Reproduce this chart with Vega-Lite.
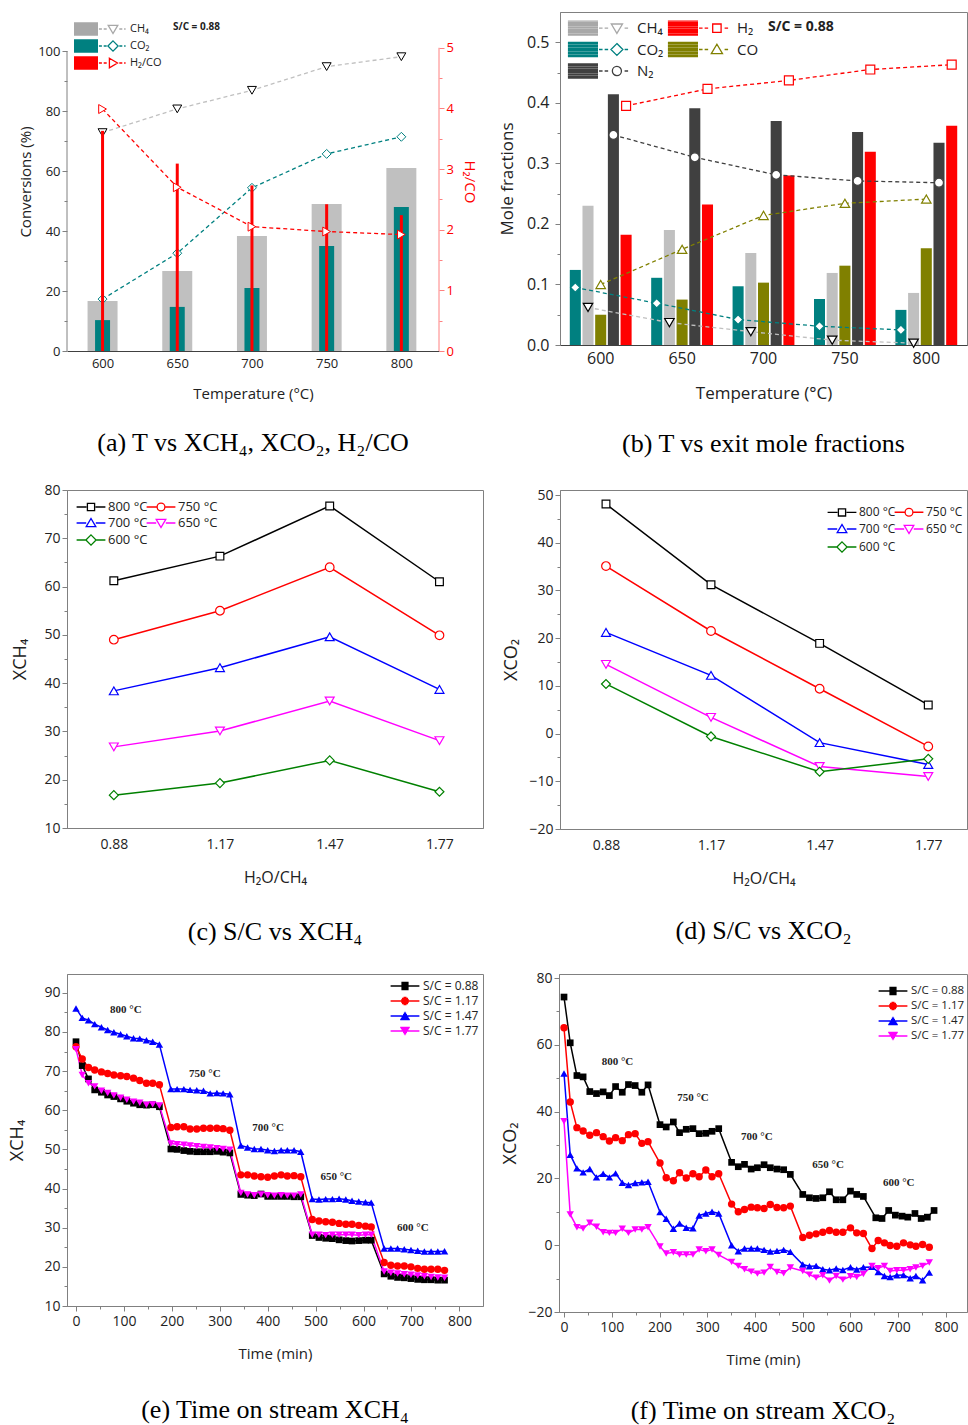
{
"$schema": "https://vega.github.io/schema/vega-lite/v6.json",
"background": "white",
"padding": {"left": 8, "top": 11, "right": 0, "bottom": 0},
"config": {
  "font": "Open Sans",
  "view": {"stroke": "#808080", "strokeWidth": 1},
  "axis": {"domainColor": "#808080", "tickColor": "#808080", "labelColor": "#222222", "titleColor": "#222222", "labelFont": "Open Sans", "titleFont": "Open Sans", "titleFontWeight": "normal", "grid": false, "labelFontSize": 13, "titleFontSize": 15},
  "legend": {"labelFont": "Open Sans", "padding": 0, "labelColor": "#222222", "titleFont": "Open Sans", "titleColor": "#222222"},
  "title": {"font": "Liberation Serif", "fontSize": 26, "fontWeight": "normal", "color": "#000000", "orient": "bottom", "anchor": "middle"}
},
"datasets": {
  "a_conv": [
    {"T":600,"s":"CH₄","k":"bar","v":16.7},{"T":650,"s":"CH₄","k":"bar","v":26.7},{"T":700,"s":"CH₄","k":"bar","v":38.3},{"T":750,"s":"CH₄","k":"bar","v":49.0},{"T":800,"s":"CH₄","k":"bar","v":61.0},
    {"T":600,"s":"CO₂","k":"bar","v":10.3},{"T":650,"s":"CO₂","k":"bar","v":14.7},{"T":700,"s":"CO₂","k":"bar","v":21.0},{"T":750,"s":"CO₂","k":"bar","v":35.0},{"T":800,"s":"CO₂","k":"bar","v":48.0},
    {"T":600,"s":"CH₄","k":"line","v":72.8},{"T":650,"s":"CH₄","k":"line","v":80.7},{"T":700,"s":"CH₄","k":"line","v":86.9},{"T":750,"s":"CH₄","k":"line","v":94.8},{"T":800,"s":"CH₄","k":"line","v":98.1},
    {"T":600,"s":"CO₂","k":"line","v":17.3},{"T":650,"s":"CO₂","k":"line","v":32.6},{"T":700,"s":"CO₂","k":"line","v":54.4},{"T":750,"s":"CO₂","k":"line","v":65.7},{"T":800,"s":"CO₂","k":"line","v":71.4}
  ],
  "a_ratio": [
    {"T":600,"s":"H₂/CO","k":"bar","v":3.63},{"T":650,"s":"H₂/CO","k":"bar","v":3.09},{"T":700,"s":"H₂/CO","k":"bar","v":2.73},{"T":750,"s":"H₂/CO","k":"bar","v":2.42},{"T":800,"s":"H₂/CO","k":"bar","v":2.24},
    {"T":600,"s":"H₂/CO","k":"line","v":3.99},{"T":650,"s":"H₂/CO","k":"line","v":2.70},{"T":700,"s":"H₂/CO","k":"line","v":2.05},{"T":750,"s":"H₂/CO","k":"line","v":1.97},{"T":800,"s":"H₂/CO","k":"line","v":1.92}
  ],
  "b": [
    {"T":600,"s":"CO₂","k":"bar","v":0.124},{"T":600,"s":"CH₄","k":"bar","v":0.230},{"T":600,"s":"CO","k":"bar","v":0.050},{"T":600,"s":"N₂","k":"bar","v":0.414},{"T":600,"s":"H₂","k":"bar","v":0.182},
    {"T":650,"s":"CO₂","k":"bar","v":0.111},{"T":650,"s":"CH₄","k":"bar","v":0.190},{"T":650,"s":"CO","k":"bar","v":0.075},{"T":650,"s":"N₂","k":"bar","v":0.391},{"T":650,"s":"H₂","k":"bar","v":0.232},
    {"T":700,"s":"CO₂","k":"bar","v":0.097},{"T":700,"s":"CH₄","k":"bar","v":0.152},{"T":700,"s":"CO","k":"bar","v":0.103},{"T":700,"s":"N₂","k":"bar","v":0.370},{"T":700,"s":"H₂","k":"bar","v":0.280},
    {"T":750,"s":"CO₂","k":"bar","v":0.076},{"T":750,"s":"CH₄","k":"bar","v":0.119},{"T":750,"s":"CO","k":"bar","v":0.131},{"T":750,"s":"N₂","k":"bar","v":0.352},{"T":750,"s":"H₂","k":"bar","v":0.319},
    {"T":800,"s":"CO₂","k":"bar","v":0.058},{"T":800,"s":"CH₄","k":"bar","v":0.086},{"T":800,"s":"CO","k":"bar","v":0.160},{"T":800,"s":"N₂","k":"bar","v":0.334},{"T":800,"s":"H₂","k":"bar","v":0.362},
    {"T":600,"s":"CO₂","k":"line","v":0.095},{"T":650,"s":"CO₂","k":"line","v":0.069},{"T":700,"s":"CO₂","k":"line","v":0.042},{"T":750,"s":"CO₂","k":"line","v":0.031},{"T":800,"s":"CO₂","k":"line","v":0.025},
    {"T":600,"s":"CH₄","k":"line","v":0.062},{"T":650,"s":"CH₄","k":"line","v":0.037},{"T":700,"s":"CH₄","k":"line","v":0.022},{"T":750,"s":"CH₄","k":"line","v":0.008},{"T":800,"s":"CH₄","k":"line","v":0.003},
    {"T":600,"s":"CO","k":"line","v":0.100},{"T":650,"s":"CO","k":"line","v":0.158},{"T":700,"s":"CO","k":"line","v":0.214},{"T":750,"s":"CO","k":"line","v":0.234},{"T":800,"s":"CO","k":"line","v":0.241},
    {"T":600,"s":"N₂","k":"line","v":0.347},{"T":650,"s":"N₂","k":"line","v":0.310},{"T":700,"s":"N₂","k":"line","v":0.281},{"T":750,"s":"N₂","k":"line","v":0.271},{"T":800,"s":"N₂","k":"line","v":0.268},
    {"T":600,"s":"H₂","k":"line","v":0.395},{"T":650,"s":"H₂","k":"line","v":0.423},{"T":700,"s":"H₂","k":"line","v":0.437},{"T":750,"s":"H₂","k":"line","v":0.455},{"T":800,"s":"H₂","k":"line","v":0.463}
  ],
  "c": [
    {"r":0.88,"t":"800","v":61.2},{"r":1.17,"t":"800","v":66.3},{"r":1.47,"t":"800","v":76.7},{"r":1.77,"t":"800","v":61.0},
    {"r":0.88,"t":"750","v":49.0},{"r":1.17,"t":"750","v":55.0},{"r":1.47,"t":"750","v":64.0},{"r":1.77,"t":"750","v":49.9},
    {"r":0.88,"t":"700","v":38.4},{"r":1.17,"t":"700","v":43.2},{"r":1.47,"t":"700","v":49.6},{"r":1.77,"t":"700","v":38.7},
    {"r":0.88,"t":"650","v":26.8},{"r":1.17,"t":"650","v":30.1},{"r":1.47,"t":"650","v":36.3},{"r":1.77,"t":"650","v":28.1},
    {"r":0.88,"t":"600","v":16.8},{"r":1.17,"t":"600","v":19.3},{"r":1.47,"t":"600","v":24.0},{"r":1.77,"t":"600","v":17.5}
  ],
  "d": [
    {"r":0.88,"t":"800","v":48.1},{"r":1.17,"t":"800","v":31.2},{"r":1.47,"t":"800","v":18.9},{"r":1.77,"t":"800","v":6.0},
    {"r":0.88,"t":"750","v":35.1},{"r":1.17,"t":"750","v":21.5},{"r":1.47,"t":"750","v":9.4},{"r":1.77,"t":"750","v":-2.7},
    {"r":0.88,"t":"700","v":21.2},{"r":1.17,"t":"700","v":12.2},{"r":1.47,"t":"700","v":-1.9},{"r":1.77,"t":"700","v":-6.5},
    {"r":0.88,"t":"650","v":14.5},{"r":1.17,"t":"650","v":3.4},{"r":1.47,"t":"650","v":-6.9},{"r":1.77,"t":"650","v":-9.0},
    {"r":0.88,"t":"600","v":10.4},{"r":1.17,"t":"600","v":-0.6},{"r":1.47,"t":"600","v":-8.0},{"r":1.77,"t":"600","v":-5.3}
  ],
  "e": [
    {"t":0,"s":"0.88","v":77.5},{"t":13,"s":"0.88","v":71.4},{"t":26,"s":"0.88","v":68.0},{"t":39,"s":"0.88","v":65.2},{"t":53,"s":"0.88","v":64.6},{"t":66,"s":"0.88","v":63.9},{"t":79,"s":"0.88","v":63.5},{"t":93,"s":"0.88","v":62.9},{"t":106,"s":"0.88","v":62.3},{"t":120,"s":"0.88","v":61.8},{"t":133,"s":"0.88","v":61.4},{"t":147,"s":"0.88","v":61.3},{"t":160,"s":"0.88","v":61.4},{"t":174,"s":"0.88","v":60.9},
    {"t":198,"s":"0.88","v":50.1},{"t":211,"s":"0.88","v":50.0},{"t":225,"s":"0.88","v":49.7},{"t":238,"s":"0.88","v":49.5},{"t":252,"s":"0.88","v":49.4},{"t":266,"s":"0.88","v":49.4},{"t":280,"s":"0.88","v":49.4},{"t":294,"s":"0.88","v":49.5},{"t":307,"s":"0.88","v":49.3},{"t":321,"s":"0.88","v":49.1},
    {"t":344,"s":"0.88","v":38.5},{"t":358,"s":"0.88","v":38.3},{"t":372,"s":"0.88","v":38.2},{"t":386,"s":"0.88","v":38.6},{"t":400,"s":"0.88","v":38.0},{"t":414,"s":"0.88","v":38.0},{"t":428,"s":"0.88","v":38.0},{"t":441,"s":"0.88","v":38.0},{"t":455,"s":"0.88","v":37.9},{"t":469,"s":"0.88","v":37.9},
    {"t":493,"s":"0.88","v":28.0},{"t":507,"s":"0.88","v":27.5},{"t":521,"s":"0.88","v":27.3},{"t":535,"s":"0.88","v":27.2},{"t":549,"s":"0.88","v":26.9},{"t":563,"s":"0.88","v":26.7},{"t":576,"s":"0.88","v":26.6},{"t":590,"s":"0.88","v":26.7},{"t":604,"s":"0.88","v":26.8},{"t":616,"s":"0.88","v":26.8},
    {"t":643,"s":"0.88","v":18.2},{"t":657,"s":"0.88","v":17.6},{"t":671,"s":"0.88","v":17.3},{"t":685,"s":"0.88","v":17.2},{"t":699,"s":"0.88","v":17.0},{"t":713,"s":"0.88","v":16.8},{"t":727,"s":"0.88","v":16.7},{"t":741,"s":"0.88","v":16.7},{"t":755,"s":"0.88","v":16.6},{"t":769,"s":"0.88","v":16.6},
    {"t":0,"s":"1.17","v":76.2},{"t":13,"s":"1.17","v":73.1},{"t":26,"s":"1.17","v":70.9},{"t":39,"s":"1.17","v":70.3},{"t":53,"s":"1.17","v":69.8},{"t":66,"s":"1.17","v":69.4},{"t":79,"s":"1.17","v":69.0},{"t":93,"s":"1.17","v":68.8},{"t":106,"s":"1.17","v":68.6},{"t":120,"s":"1.17","v":68.2},{"t":133,"s":"1.17","v":67.6},{"t":147,"s":"1.17","v":66.9},{"t":160,"s":"1.17","v":66.9},{"t":174,"s":"1.17","v":66.5},
    {"t":198,"s":"1.17","v":55.6},{"t":211,"s":"1.17","v":55.8},{"t":225,"s":"1.17","v":55.8},{"t":238,"s":"1.17","v":55.2},{"t":252,"s":"1.17","v":55.2},{"t":266,"s":"1.17","v":55.4},{"t":280,"s":"1.17","v":55.4},{"t":294,"s":"1.17","v":55.4},{"t":307,"s":"1.17","v":55.3},{"t":321,"s":"1.17","v":54.9},
    {"t":344,"s":"1.17","v":43.5},{"t":358,"s":"1.17","v":43.5},{"t":372,"s":"1.17","v":43.2},{"t":386,"s":"1.17","v":43.0},{"t":400,"s":"1.17","v":42.9},{"t":414,"s":"1.17","v":43.2},{"t":428,"s":"1.17","v":43.5},{"t":441,"s":"1.17","v":43.2},{"t":455,"s":"1.17","v":43.3},{"t":469,"s":"1.17","v":43.0},
    {"t":493,"s":"1.17","v":32.1},{"t":507,"s":"1.17","v":31.7},{"t":521,"s":"1.17","v":31.5},{"t":535,"s":"1.17","v":31.4},{"t":549,"s":"1.17","v":31.1},{"t":563,"s":"1.17","v":30.9},{"t":576,"s":"1.17","v":30.9},{"t":590,"s":"1.17","v":30.6},{"t":604,"s":"1.17","v":30.4},{"t":616,"s":"1.17","v":30.2},
    {"t":643,"s":"1.17","v":21.1},{"t":657,"s":"1.17","v":20.4},{"t":671,"s":"1.17","v":20.2},{"t":685,"s":"1.17","v":20.2},{"t":699,"s":"1.17","v":20.0},{"t":713,"s":"1.17","v":19.6},{"t":727,"s":"1.17","v":19.4},{"t":741,"s":"1.17","v":19.4},{"t":755,"s":"1.17","v":19.4},{"t":769,"s":"1.17","v":19.1},
    {"t":0,"s":"1.47","v":86.0},{"t":13,"s":"1.47","v":83.6},{"t":26,"s":"1.47","v":83.0},{"t":39,"s":"1.47","v":82.0},{"t":53,"s":"1.47","v":81.2},{"t":66,"s":"1.47","v":80.5},{"t":79,"s":"1.47","v":79.9},{"t":93,"s":"1.47","v":79.4},{"t":106,"s":"1.47","v":78.9},{"t":120,"s":"1.47","v":78.4},{"t":133,"s":"1.47","v":78.3},{"t":147,"s":"1.47","v":77.9},{"t":160,"s":"1.47","v":77.5},{"t":174,"s":"1.47","v":76.8},
    {"t":198,"s":"1.47","v":65.4},{"t":211,"s":"1.47","v":65.4},{"t":225,"s":"1.47","v":65.4},{"t":238,"s":"1.47","v":65.2},{"t":252,"s":"1.47","v":65.1},{"t":266,"s":"1.47","v":65.0},{"t":280,"s":"1.47","v":64.3},{"t":294,"s":"1.47","v":64.4},{"t":307,"s":"1.47","v":64.3},{"t":321,"s":"1.47","v":64.1},
    {"t":344,"s":"1.47","v":51.0},{"t":358,"s":"1.47","v":50.5},{"t":372,"s":"1.47","v":50.1},{"t":386,"s":"1.47","v":50.1},{"t":400,"s":"1.47","v":49.8},{"t":414,"s":"1.47","v":49.6},{"t":428,"s":"1.47","v":49.8},{"t":441,"s":"1.47","v":49.8},{"t":455,"s":"1.47","v":49.8},{"t":469,"s":"1.47","v":49.4},
    {"t":493,"s":"1.47","v":37.3},{"t":507,"s":"1.47","v":37.2},{"t":521,"s":"1.47","v":37.3},{"t":535,"s":"1.47","v":37.3},{"t":549,"s":"1.47","v":37.4},{"t":563,"s":"1.47","v":37.2},{"t":576,"s":"1.47","v":36.9},{"t":590,"s":"1.47","v":36.7},{"t":604,"s":"1.47","v":36.5},{"t":616,"s":"1.47","v":36.4},
    {"t":643,"s":"1.47","v":24.7},{"t":657,"s":"1.47","v":24.7},{"t":671,"s":"1.47","v":24.7},{"t":685,"s":"1.47","v":24.5},{"t":699,"s":"1.47","v":24.3},{"t":713,"s":"1.47","v":24.1},{"t":727,"s":"1.47","v":23.9},{"t":741,"s":"1.47","v":23.9},{"t":755,"s":"1.47","v":23.9},{"t":769,"s":"1.47","v":24.0},
    {"t":0,"s":"1.77","v":75.6},{"t":13,"s":"1.77","v":69.0},{"t":26,"s":"1.77","v":66.9},{"t":39,"s":"1.77","v":66.1},{"t":53,"s":"1.77","v":65.0},{"t":66,"s":"1.77","v":64.4},{"t":79,"s":"1.77","v":63.8},{"t":93,"s":"1.77","v":63.2},{"t":106,"s":"1.77","v":62.7},{"t":120,"s":"1.77","v":62.2},{"t":133,"s":"1.77","v":61.9},{"t":147,"s":"1.77","v":61.4},{"t":160,"s":"1.77","v":61.5},{"t":174,"s":"1.77","v":61.2},
    {"t":198,"s":"1.77","v":51.5},{"t":211,"s":"1.77","v":51.3},{"t":225,"s":"1.77","v":51.2},{"t":238,"s":"1.77","v":51.0},{"t":252,"s":"1.77","v":50.8},{"t":266,"s":"1.77","v":50.6},{"t":280,"s":"1.77","v":50.5},{"t":294,"s":"1.77","v":50.3},{"t":307,"s":"1.77","v":50.1},{"t":321,"s":"1.77","v":49.9},
    {"t":344,"s":"1.77","v":38.9},{"t":358,"s":"1.77","v":38.5},{"t":372,"s":"1.77","v":38.3},{"t":386,"s":"1.77","v":38.5},{"t":400,"s":"1.77","v":38.3},{"t":414,"s":"1.77","v":38.2},{"t":428,"s":"1.77","v":38.3},{"t":441,"s":"1.77","v":38.2},{"t":455,"s":"1.77","v":38.2},{"t":469,"s":"1.77","v":38.5},
    {"t":493,"s":"1.77","v":28.2},{"t":507,"s":"1.77","v":28.2},{"t":521,"s":"1.77","v":28.1},{"t":535,"s":"1.77","v":28.2},{"t":549,"s":"1.77","v":28.2},{"t":563,"s":"1.77","v":28.2},{"t":576,"s":"1.77","v":28.2},{"t":590,"s":"1.77","v":28.1},{"t":604,"s":"1.77","v":28.2},{"t":616,"s":"1.77","v":28.2},
    {"t":643,"s":"1.77","v":18.8},{"t":657,"s":"1.77","v":18.5},{"t":671,"s":"1.77","v":18.3},{"t":685,"s":"1.77","v":18.1},{"t":699,"s":"1.77","v":18.0},{"t":713,"s":"1.77","v":17.8},{"t":727,"s":"1.77","v":17.6},{"t":741,"s":"1.77","v":17.4},{"t":755,"s":"1.77","v":17.3},{"t":769,"s":"1.77","v":17.2}
  ],
  "e_ann": [
    {"label":"800 °C","t":104,"v":85.7},{"label":"750 °C","t":269,"v":69.2},{"label":"700 °C","t":401,"v":55.4},{"label":"650 °C","t":543,"v":42.9},{"label":"600 °C","t":703,"v":29.9}
  ],
  "f": [
    {"t":0,"s":"0.88","v":74.3},{"t":13,"s":"0.88","v":60.6},{"t":27,"s":"0.88","v":50.8},{"t":40,"s":"0.88","v":50.4},{"t":54,"s":"0.88","v":46.0},{"t":68,"s":"0.88","v":45.4},{"t":82,"s":"0.88","v":45.9},{"t":95,"s":"0.88","v":44.8},{"t":108,"s":"0.88","v":47.5},{"t":122,"s":"0.88","v":45.8},{"t":135,"s":"0.88","v":48.1},{"t":149,"s":"0.88","v":47.8},{"t":163,"s":"0.88","v":45.8},{"t":176,"s":"0.88","v":48.0},
    {"t":201,"s":"0.88","v":36.1},{"t":214,"s":"0.88","v":35.4},{"t":229,"s":"0.88","v":36.9},{"t":242,"s":"0.88","v":33.7},{"t":256,"s":"0.88","v":34.7},{"t":270,"s":"0.88","v":34.9},{"t":283,"s":"0.88","v":33.4},{"t":297,"s":"0.88","v":33.5},{"t":310,"s":"0.88","v":34.1},{"t":324,"s":"0.88","v":34.9},
    {"t":351,"s":"0.88","v":24.8},{"t":365,"s":"0.88","v":23.5},{"t":378,"s":"0.88","v":24.2},{"t":392,"s":"0.88","v":22.8},{"t":405,"s":"0.88","v":23.2},{"t":419,"s":"0.88","v":24.1},{"t":432,"s":"0.88","v":23.2},{"t":446,"s":"0.88","v":22.8},{"t":460,"s":"0.88","v":22.6},{"t":474,"s":"0.88","v":21.2},
    {"t":500,"s":"0.88","v":15.2},{"t":514,"s":"0.88","v":14.2},{"t":528,"s":"0.88","v":14.0},{"t":542,"s":"0.88","v":14.2},{"t":556,"s":"0.88","v":16.0},{"t":570,"s":"0.88","v":13.6},{"t":584,"s":"0.88","v":13.6},{"t":600,"s":"0.88","v":16.2},{"t":613,"s":"0.88","v":15.2},{"t":627,"s":"0.88","v":14.6},
    {"t":653,"s":"0.88","v":8.2},{"t":666,"s":"0.88","v":8.0},{"t":680,"s":"0.88","v":10.4},{"t":694,"s":"0.88","v":9.0},{"t":708,"s":"0.88","v":8.7},{"t":720,"s":"0.88","v":8.4},{"t":735,"s":"0.88","v":9.5},{"t":748,"s":"0.88","v":8.0},{"t":761,"s":"0.88","v":8.4},{"t":775,"s":"0.88","v":10.4},
    {"t":0,"s":"1.17","v":65.1},{"t":13,"s":"1.17","v":42.9},{"t":27,"s":"1.17","v":35.2},{"t":40,"s":"1.17","v":34.2},{"t":54,"s":"1.17","v":32.9},{"t":68,"s":"1.17","v":33.7},{"t":82,"s":"1.17","v":32.5},{"t":95,"s":"1.17","v":31.2},{"t":108,"s":"1.17","v":32.2},{"t":122,"s":"1.17","v":31.3},{"t":135,"s":"1.17","v":33.1},{"t":149,"s":"1.17","v":33.4},{"t":163,"s":"1.17","v":30.5},{"t":176,"s":"1.17","v":31.0},
    {"t":201,"s":"1.17","v":24.6},{"t":214,"s":"1.17","v":20.2},{"t":229,"s":"1.17","v":19.3},{"t":242,"s":"1.17","v":21.7},{"t":256,"s":"1.17","v":20.1},{"t":270,"s":"1.17","v":21.4},{"t":283,"s":"1.17","v":20.5},{"t":297,"s":"1.17","v":22.5},{"t":310,"s":"1.17","v":20.5},{"t":324,"s":"1.17","v":21.4},
    {"t":351,"s":"1.17","v":12.3},{"t":365,"s":"1.17","v":10.0},{"t":378,"s":"1.17","v":10.7},{"t":392,"s":"1.17","v":11.4},{"t":405,"s":"1.17","v":11.2},{"t":419,"s":"1.17","v":11.0},{"t":432,"s":"1.17","v":12.2},{"t":446,"s":"1.17","v":11.3},{"t":460,"s":"1.17","v":11.2},{"t":474,"s":"1.17","v":11.7},
    {"t":500,"s":"1.17","v":2.3},{"t":514,"s":"1.17","v":3.0},{"t":528,"s":"1.17","v":3.4},{"t":542,"s":"1.17","v":3.9},{"t":556,"s":"1.17","v":4.4},{"t":570,"s":"1.17","v":3.9},{"t":584,"s":"1.17","v":3.9},{"t":600,"s":"1.17","v":5.2},{"t":613,"s":"1.17","v":3.7},{"t":627,"s":"1.17","v":3.5},
    {"t":645,"s":"1.17","v":-1.0},{"t":658,"s":"1.17","v":1.4},{"t":671,"s":"1.17","v":0.7},{"t":683,"s":"1.17","v":-0.1},{"t":697,"s":"1.17","v":-0.3},{"t":711,"s":"1.17","v":0.7},{"t":725,"s":"1.17","v":0.1},{"t":737,"s":"1.17","v":-0.3},{"t":751,"s":"1.17","v":0.2},{"t":765,"s":"1.17","v":-0.6},
    {"t":0,"s":"1.47","v":51.4},{"t":13,"s":"1.47","v":27.1},{"t":27,"s":"1.47","v":23.0},{"t":40,"s":"1.47","v":21.8},{"t":54,"s":"1.47","v":22.8},{"t":68,"s":"1.47","v":20.3},{"t":82,"s":"1.47","v":21.4},{"t":95,"s":"1.47","v":20.3},{"t":108,"s":"1.47","v":21.5},{"t":122,"s":"1.47","v":18.7},{"t":135,"s":"1.47","v":18.0},{"t":149,"s":"1.47","v":18.6},{"t":163,"s":"1.47","v":18.8},{"t":176,"s":"1.47","v":19.0},
    {"t":201,"s":"1.47","v":9.9},{"t":214,"s":"1.47","v":7.9},{"t":229,"s":"1.47","v":4.9},{"t":242,"s":"1.47","v":6.5},{"t":256,"s":"1.47","v":5.2},{"t":270,"s":"1.47","v":5.1},{"t":283,"s":"1.47","v":8.9},{"t":297,"s":"1.47","v":9.5},{"t":310,"s":"1.47","v":10.0},{"t":324,"s":"1.47","v":9.5},
    {"t":351,"s":"1.47","v":0.0},{"t":365,"s":"1.47","v":-1.8},{"t":378,"s":"1.47","v":-1.0},{"t":392,"s":"1.47","v":-1.0},{"t":405,"s":"1.47","v":-1.0},{"t":419,"s":"1.47","v":-1.4},{"t":432,"s":"1.47","v":-1.9},{"t":446,"s":"1.47","v":-1.7},{"t":460,"s":"1.47","v":-1.4},{"t":474,"s":"1.47","v":-2.0},
    {"t":500,"s":"1.47","v":-5.8},{"t":514,"s":"1.47","v":-6.3},{"t":528,"s":"1.47","v":-6.2},{"t":542,"s":"1.47","v":-7.2},{"t":556,"s":"1.47","v":-7.5},{"t":570,"s":"1.47","v":-7.0},{"t":584,"s":"1.47","v":-7.4},{"t":600,"s":"1.47","v":-6.6},{"t":613,"s":"1.47","v":-7.3},{"t":627,"s":"1.47","v":-6.6},
    {"t":645,"s":"1.47","v":-6.5},{"t":658,"s":"1.47","v":-8.0},{"t":671,"s":"1.47","v":-9.2},{"t":683,"s":"1.47","v":-9.5},{"t":697,"s":"1.47","v":-9.0},{"t":711,"s":"1.47","v":-8.9},{"t":725,"s":"1.47","v":-9.9},{"t":737,"s":"1.47","v":-9.2},{"t":751,"s":"1.47","v":-10.5},{"t":765,"s":"1.47","v":-8.2},
    {"t":0,"s":"1.77","v":37.1},{"t":13,"s":"1.77","v":9.2},{"t":27,"s":"1.77","v":5.4},{"t":40,"s":"1.77","v":5.0},{"t":54,"s":"1.77","v":6.7},{"t":68,"s":"1.77","v":5.5},{"t":82,"s":"1.77","v":3.9},{"t":95,"s":"1.77","v":3.7},{"t":108,"s":"1.77","v":3.7},{"t":122,"s":"1.77","v":4.9},{"t":135,"s":"1.77","v":3.7},{"t":149,"s":"1.77","v":4.7},{"t":163,"s":"1.77","v":4.7},{"t":176,"s":"1.77","v":5.4},
    {"t":201,"s":"1.77","v":-0.4},{"t":214,"s":"1.77","v":-2.5},{"t":229,"s":"1.77","v":-2.1},{"t":242,"s":"1.77","v":-2.8},{"t":256,"s":"1.77","v":-2.8},{"t":270,"s":"1.77","v":-2.8},{"t":283,"s":"1.77","v":-1.3},{"t":297,"s":"1.77","v":-1.8},{"t":310,"s":"1.77","v":-1.3},{"t":324,"s":"1.77","v":-2.9},
    {"t":351,"s":"1.77","v":-5.0},{"t":365,"s":"1.77","v":-6.2},{"t":378,"s":"1.77","v":-7.2},{"t":392,"s":"1.77","v":-7.9},{"t":405,"s":"1.77","v":-8.5},{"t":419,"s":"1.77","v":-8.2},{"t":432,"s":"1.77","v":-6.5},{"t":446,"s":"1.77","v":-8.0},{"t":460,"s":"1.77","v":-8.4},{"t":474,"s":"1.77","v":-6.7},
    {"t":500,"s":"1.77","v":-7.7},{"t":514,"s":"1.77","v":-8.8},{"t":528,"s":"1.77","v":-9.7},{"t":542,"s":"1.77","v":-9.0},{"t":556,"s":"1.77","v":-10.6},{"t":570,"s":"1.77","v":-9.2},{"t":584,"s":"1.77","v":-10.3},{"t":600,"s":"1.77","v":-9.3},{"t":613,"s":"1.77","v":-9.5},{"t":627,"s":"1.77","v":-8.6},
    {"t":645,"s":"1.77","v":-6.2},{"t":658,"s":"1.77","v":-6.9},{"t":671,"s":"1.77","v":-6.2},{"t":683,"s":"1.77","v":-7.7},{"t":697,"s":"1.77","v":-7.5},{"t":711,"s":"1.77","v":-7.5},{"t":725,"s":"1.77","v":-7.2},{"t":737,"s":"1.77","v":-6.7},{"t":751,"s":"1.77","v":-6.2},{"t":765,"s":"1.77","v":-5.2}
  ],
  "f_ann": [
    {"label":"800 °C","t":112,"v":54.9},{"label":"750 °C","t":270,"v":44.1},{"label":"700 °C","t":404,"v":32.3},{"label":"650 °C","t":553,"v":24.0},{"label":"600 °C","t":701,"v":18.5}
  ]
},
"resolve": {"scale": {"color": "independent", "fill": "independent", "stroke": "independent", "shape": "independent"}},
"vconcat": [
 {"hconcat": [
  {
   "title": {"text": "(a) T vs XCH₄, XCO₂, H₂/CO", "offset": 29},
   "width": 372, "height": 339,
   "view": {"stroke": null},
   "layer": [
    {
     "data": {"name": "a_conv"},
     "encoding": {
      "x": {"field": "T", "type": "quantitative", "scale": {"domain": [576.2, 825.2], "nice": false, "zero": false, "padding": 0}, "axis": {"values": [600,650,700,750,800], "format": "d", "title": "Temperature (°C)", "ticks": false, "labelPadding": 6, "titlePadding": 16, "domainColor": "#404040"}},
      "y": {"field": "v", "type": "quantitative", "scale": {"domain": [0, 113], "nice": false}, "axis": {"values": [0,10,20,30,40,50,60,70,80,90,100], "labelExpr": "datum.value % 20 === 0 ? datum.label : ''", "tickSize": {"condition": {"test": "datum.value % 20 === 0", "value": 5}, "value": 3}, "domain": false, "title": "Conversions (%)", "titlePadding": 4}}
     },
     "layer": [
      {"transform": [{"filter": "datum.k === 'bar' && datum.s === 'CH₄'"}], "mark": {"type": "bar", "width": 30},
       "encoding": {"fill": {"field": "s", "type": "nominal", "scale": {"range": ["#c0c0c0", "#008080", "#ff0000"]}, "legend": null}}},
      {"transform": [{"filter": "datum.k === 'bar' && datum.s === 'CO₂'"}], "mark": {"type": "bar", "width": 15}, "encoding": {"fill": {"field": "s", "type": "nominal"}}},
      {"transform": [{"filter": "datum.k === 'line'"}], "mark": {"type": "line", "strokeDash": [4, 3], "strokeWidth": 1.3},
       "encoding": {"color": {"field": "s", "type": "nominal", "scale": {"domain": ["H₂/CO", "CO₂", "CH₄"], "range": ["#ff0000", "#008080", "#c0c0c0"]}, "legend": null}}},
      {"transform": [{"filter": "datum.k === 'line' && datum.s === 'CH₄'"}], "mark": {"type": "point", "shape": "triangle-down", "size": 80, "filled": true, "fill": "#ffffff", "stroke": "#000000", "strokeWidth": 1, "opacity": 1}},
      {"transform": [{"filter": "datum.k === 'line' && datum.s === 'CO₂'"}], "mark": {"type": "point", "shape": "diamond", "size": 80, "filled": true, "fill": "#ffffff", "stroke": "#008080", "strokeWidth": 1, "opacity": 1}},
      {"transform": [{"filter": "datum.k === 'bar' && datum.T === 600 && datum.s === 'CH₄'"}], "mark": {"type": "rule", "color": "#808080", "strokeWidth": 1}, "encoding": {"x": {"datum": 576.2}, "y": {"datum": 0}, "y2": {"datum": 100}}}
     ]
    },
    {
     "data": {"name": "a_ratio"},
     "encoding": {
      "x": {"field": "T", "type": "quantitative"},
      "y": {"field": "v", "type": "quantitative", "scale": {"domain": [0, 5.59], "nice": false}, "axis": {"orient": "right", "values": [0,0.5,1,1.5,2,2.5,3,3.5,4,4.5,5], "labelExpr": "datum.value % 1 === 0 ? format(datum.value, 'd') : ''", "tickSize": {"condition": {"test": "datum.value % 1 === 0", "value": 5}, "value": 3}, "domain": false, "title": "H₂/CO", "labelColor": "#ff0000", "tickColor": "#ff8080", "titleColor": "#ff0000", "titlePadding": 8}}
     },
     "layer": [
      {"transform": [{"filter": "datum.k === 'bar'"}], "mark": {"type": "bar", "width": 3}, "encoding": {"fill": {"field": "s", "type": "nominal"}}},
      {"transform": [{"filter": "datum.k === 'line'"}], "mark": {"type": "line", "strokeDash": [4, 3], "strokeWidth": 1.3}, "encoding": {"color": {"field": "s", "type": "nominal"}}},
      {"transform": [{"filter": "datum.k === 'line'"}], "mark": {"type": "point", "shape": "triangle-right", "size": 80, "filled": true, "fill": "#ffffff", "stroke": "#ff0000", "strokeWidth": 1, "opacity": 1}},
      {"transform": [{"filter": "datum.k === 'bar' && datum.T === 600"}], "mark": {"type": "rule", "color": "#ff8080", "strokeWidth": 1}, "encoding": {"x": {"datum": 825.2}, "y": {"datum": 0}, "y2": {"datum": 5}}}
     ]
    },
    {
     "data": {"name": "a_conv"},
     "transform": [{"filter": "false"}],
     "mark": {"type": "point", "filled": false, "opacity": 1, "size": 144},
     "encoding": {
      "stroke": {"field": "s", "type": "nominal", "scale": {"domain": ["CH₄", "CO₂", "H₂/CO"], "range": ["#a8a8a8", "#008080", "#ff0000"]},
        "legend": {"orient": "none", "legendX": 24, "legendY": 10, "title": "S/C = 0.88", "titleOrient": "right", "titleAnchor": "start", "titleFontSize": 10, "titleFontWeight": "bold", "titlePadding": 12, "labelFontSize": 11, "labelOffset": 25, "symbolSize": 144, "symbolStrokeWidth": 1.3, "rowPadding": -1}},
      "shape": {"field": "s", "type": "nominal", "scale": {"domain": ["CH₄", "CO₂", "H₂/CO"], "range": [
        "M-4,-1H0M-4,-0.8H0M-4,-0.6H0M-4,-0.4H0M-4,-0.2H0M-4,0H0M-4,0.2H0M-4,0.4H0M-4,0.6H0M-4,0.8H0M-4,1H0M0.15,0H0.65M0.95,0H1.45M3.55,0H4.05M4.35,0H4.6M1.7,-0.6L3.3,-0.6L2.5,0.75Z",
        "M-4,-1H0M-4,-0.8H0M-4,-0.6H0M-4,-0.4H0M-4,-0.2H0M-4,0H0M-4,0.2H0M-4,0.4H0M-4,0.6H0M-4,0.8H0M-4,1H0M0.15,0H0.65M0.95,0H1.45M3.55,0H4.05M4.35,0H4.6M2.5,-0.85L3.35,0L2.5,0.85L1.65,0Z",
        "M-4,-1H0M-4,-0.8H0M-4,-0.6H0M-4,-0.4H0M-4,-0.2H0M-4,0H0M-4,0.2H0M-4,0.4H0M-4,0.6H0M-4,0.8H0M-4,1H0M0.15,0H0.65M0.95,0H1.45M3.55,0H4.05M4.35,0H4.6M1.9,-0.8L3.25,0L1.9,0.8Z"]}}
     }
    }
   ],
   "resolve": {"scale": {"y": "independent"}}
  },
  {
   "title": {"text": "(b) T vs exit mole fractions", "offset": 30},
   "width": 407, "height": 333,
   "data": {"name": "b"},
   "encoding": {
    "x": {"field": "T", "type": "ordinal", "scale": {"paddingInner": 0.22, "paddingOuter": 0.11}, "axis": {"labelAngle": 0, "ticks": false, "title": "Temperature (°C)", "labelFontSize": 16, "titleFontSize": 17, "labelPadding": 5, "titlePadding": 19, "domainColor": "#404040"}},
    "xOffset": {"field": "s", "type": "nominal", "scale": {"domain": ["CO₂", "CH₄", "CO", "N₂", "H₂"], "paddingInner": 0.13, "paddingOuter": 0.065}},
    "y": {"field": "v", "type": "quantitative", "scale": {"domain": [0, 0.55], "nice": false}, "axis": {"values": [0,0.05,0.1,0.15,0.2,0.25,0.3,0.35,0.4,0.45,0.5], "labelExpr": "round(datum.value*100) % 10 === 0 ? format(datum.value, '.1f') : ''", "tickSize": {"condition": {"test": "round(datum.value*100) % 10 === 0", "value": 5}, "value": 3}, "title": "Mole fractions", "labelFontSize": 16, "titleFontSize": 17, "labelPadding": 6, "titlePadding": 10}}
   },
   "layer": [
    {"transform": [{"filter": "datum.k === 'bar'"}], "mark": {"type": "bar"},
     "encoding": {"fill": {"field": "s", "type": "nominal", "scale": {"domain": ["CO₂", "CH₄", "CO", "N₂", "H₂"], "range": ["#008080", "#c0c0c0", "#808000", "#404040", "#ff0000"]}, "legend": null}}},
    {"transform": [{"filter": "datum.k === 'line'"}], "mark": {"type": "line", "strokeDash": [4, 3], "strokeWidth": 1.3},
     "encoding": {"color": {"field": "s", "type": "nominal", "scale": {"domain": ["CO", "H₂", "N₂", "CO₂", "CH₄"], "range": ["#808000", "#ff0000", "#404040", "#008080", "#c0c0c0"]}, "legend": null}}},
    {"transform": [{"filter": "datum.k === 'line' && datum.s === 'CO₂'"}], "mark": {"type": "point", "shape": "diamond", "size": 90, "filled": true, "fill": "#ffffff", "stroke": "#008080", "strokeWidth": 1.2, "opacity": 1}},
    {"transform": [{"filter": "datum.k === 'line' && datum.s === 'CH₄'"}], "mark": {"type": "point", "shape": "triangle-down", "size": 90, "filled": true, "fill": "#ffffff", "stroke": "#000000", "strokeWidth": 1.2, "opacity": 1}},
    {"transform": [{"filter": "datum.k === 'line' && datum.s === 'CO'"}], "mark": {"type": "point", "shape": "triangle-up", "size": 90, "filled": true, "fill": "#ffffff", "stroke": "#808000", "strokeWidth": 1.2, "opacity": 1}},
    {"transform": [{"filter": "datum.k === 'line' && datum.s === 'N₂'"}], "mark": {"type": "point", "shape": "circle", "size": 80, "filled": true, "fill": "#ffffff", "stroke": "#404040", "strokeWidth": 1.2, "opacity": 1}},
    {"transform": [{"filter": "datum.k === 'line' && datum.s === 'H₂'"}], "mark": {"type": "point", "shape": "square", "size": 80, "filled": true, "fill": "#ffffff", "stroke": "#ff0000", "strokeWidth": 1.2, "opacity": 1}},
    {"transform": [{"filter": "false"}], "mark": {"type": "point", "filled": false, "opacity": 1, "size": 196},
     "encoding": {
      "stroke": {"field": "s", "type": "nominal", "scale": {"domain": ["CH₄", "CO₂", "N₂", "H₂", "CO"], "range": ["#a8a8a8", "#008080", "#404040", "#ff0000", "#808000"]},
        "legend": {"orient": "none", "legendX": 30, "legendY": 8, "columns": 2, "title": "S/C = 0.88", "titleOrient": "right", "titleAnchor": "start", "titleFontSize": 14, "titleFontWeight": "bold", "titlePadding": 10, "labelFontSize": 15, "labelOffset": 31, "symbolSize": 196, "symbolStrokeWidth": 1.3, "columnPadding": 1, "rowPadding": 1.5}},
      "shape": {"field": "s", "type": "nominal", "scale": {"domain": ["CH₄", "CO₂", "N₂", "H₂", "CO"], "range": [
        "M-4.3,-1H0M-4.3,-0.8H0M-4.3,-0.6H0M-4.3,-0.4H0M-4.3,-0.2H0M-4.3,0H0M-4.3,0.2H0M-4.3,0.4H0M-4.3,0.6H0M-4.3,0.8H0M-4.3,1H0M0.15,0H0.65M0.95,0H1.45M3.8,0H4.3M1.9,-0.6L3.5,-0.6L2.7,0.75Z",
        "M-4.3,-1H0M-4.3,-0.8H0M-4.3,-0.6H0M-4.3,-0.4H0M-4.3,-0.2H0M-4.3,0H0M-4.3,0.2H0M-4.3,0.4H0M-4.3,0.6H0M-4.3,0.8H0M-4.3,1H0M0.15,0H0.65M0.95,0H1.45M3.8,0H4.3M2.7,-0.85L3.55,0L2.7,0.85L1.85,0Z",
        "M-4.3,-1H0M-4.3,-0.8H0M-4.3,-0.6H0M-4.3,-0.4H0M-4.3,-0.2H0M-4.3,0H0M-4.3,0.2H0M-4.3,0.4H0M-4.3,0.6H0M-4.3,0.8H0M-4.3,1H0M0.15,0H0.65M0.95,0H1.45M3.8,0H4.3M2.05,0A0.65,0.65 0 1,0 3.35,0A0.65,0.65 0 1,0 2.05,0Z",
        "M-4.3,-1H0M-4.3,-0.8H0M-4.3,-0.6H0M-4.3,-0.4H0M-4.3,-0.2H0M-4.3,0H0M-4.3,0.2H0M-4.3,0.4H0M-4.3,0.6H0M-4.3,0.8H0M-4.3,1H0M0.15,0H0.65M0.95,0H1.45M3.8,0H4.3M2.1,-0.6H3.3V0.6H2.1Z",
        "M-4.3,-1H0M-4.3,-0.8H0M-4.3,-0.6H0M-4.3,-0.4H0M-4.3,-0.2H0M-4.3,0H0M-4.3,0.2H0M-4.3,0.4H0M-4.3,0.6H0M-4.3,0.8H0M-4.3,1H0M0.15,0H0.65M0.95,0H1.45M3.8,0H4.3M1.9,0.6L3.5,0.6L2.7,-0.75Z"]}}
     }}
   ]
  }
 ], "spacing": 21, "resolve": {"scale": {"color": "independent", "fill": "independent", "stroke": "independent", "shape": "independent"}}},
 {"hconcat": [
  {
   "title": {"text": "(c) S/C vs XCH₄", "offset": 34},
   "width": 416, "height": 338,
   "data": {"name": "c"},
   "encoding": {
    "x": {"field": "r", "type": "quantitative", "scale": {"domain": [0.752, 1.889], "nice": false, "zero": false}, "axis": {"values": [0.88, 1.17, 1.47, 1.77], "format": ".2f", "ticks": false, "title": "H₂O/CH₄", "labelFontSize": 14, "titleFontSize": 16, "labelPadding": 9, "titlePadding": 18}},
    "y": {"field": "v", "type": "quantitative", "scale": {"domain": [10, 80], "nice": false, "zero": false}, "axis": {"values": [10,15,20,25,30,35,40,45,50,55,60,65,70,75,80], "labelExpr": "datum.value % 10 === 0 ? datum.label : ''", "tickSize": {"condition": {"test": "datum.value % 10 === 0", "value": 5}, "value": 3}, "title": "XCH₄", "labelFontSize": 14, "titleFontSize": 18, "titlePadding": 14}}
   },
   "layer": [
    {"mark": {"type": "line", "strokeWidth": 1.5}, "encoding": {"color": {"field": "t", "type": "nominal", "scale": {"domain": ["800", "750", "700", "650", "600"], "range": ["#000000", "#ff0000", "#0000ff", "#ff00ff", "#008000"]}, "legend": null}}},
    {"transform": [{"filter": "datum.t === '800'"}], "mark": {"type": "point", "shape": "square", "size": 60, "filled": true, "fill": "#ffffff", "stroke": "#000000", "strokeWidth": 1.2, "opacity": 1}},
    {"transform": [{"filter": "datum.t === '750'"}], "mark": {"type": "point", "shape": "circle", "size": 75, "filled": true, "fill": "#ffffff", "stroke": "#ff0000", "strokeWidth": 1.2, "opacity": 1}},
    {"transform": [{"filter": "datum.t === '700'"}], "mark": {"type": "point", "shape": "triangle-up", "size": 80, "filled": true, "fill": "#ffffff", "stroke": "#0000ff", "strokeWidth": 1.2, "opacity": 1}},
    {"transform": [{"filter": "datum.t === '650'"}], "mark": {"type": "point", "shape": "triangle-down", "size": 80, "filled": true, "fill": "#ffffff", "stroke": "#ff00ff", "strokeWidth": 1.2, "opacity": 1}},
    {"transform": [{"filter": "datum.t === '600'"}], "mark": {"type": "point", "shape": "diamond", "size": 80, "filled": true, "fill": "#ffffff", "stroke": "#008000", "strokeWidth": 1.2, "opacity": 1}},
    {"transform": [{"filter": "false"}], "mark": {"type": "point", "filled": false, "opacity": 1, "size": 144},
     "encoding": {
      "stroke": {"field": "t", "type": "nominal", "scale": {"domain": ["800", "700", "600", "750", "650"], "range": ["#000000", "#0000ff", "#008000", "#ff0000", "#ff00ff"]},
        "legend": {"orient": "none", "legendX": 17, "legendY": 10, "columns": 2, "title": null, "labelExpr": "datum.label + ' °C'", "labelFontSize": 13, "labelOffset": 10, "symbolSize": 144, "symbolStrokeWidth": 1.3, "columnPadding": -4, "rowPadding": 1}},
      "shape": {"field": "t", "type": "nominal", "scale": {"domain": ["800", "700", "600", "750", "650"], "range": [
        "M-2.4,0H-0.75M0.75,0H2.4M-0.6,-0.6H0.6V0.6H-0.6Z",
        "M-2.4,0H-0.8M0.8,0H2.4M-0.8,0.6L0.8,0.6L0,-0.75Z",
        "M-2.4,0H-0.85M0.85,0H2.4M0,-0.85L0.85,0L0,0.85L-0.85,0Z",
        "M-2.4,0H-0.75M0.75,0H2.4M-0.65,0A0.65,0.65 0 1,0 0.65,0A0.65,0.65 0 1,0 -0.65,0Z",
        "M-2.4,0H-0.8M0.8,0H2.4M-0.8,-0.6L0.8,-0.6L0,0.75Z"]}}
     }}
   ]
  },
  {
   "title": {"text": "(d) S/C vs XCO₂", "offset": 32},
   "width": 407, "height": 339,
   "data": {"name": "d"},
   "encoding": {
    "x": {"field": "r", "type": "quantitative", "scale": {"domain": [0.753, 1.877], "nice": false, "zero": false}, "axis": {"values": [0.88, 1.17, 1.47, 1.77], "format": ".2f", "ticks": false, "title": "H₂O/CH₄", "labelFontSize": 14, "titleFontSize": 16, "labelPadding": 9, "titlePadding": 18}},
    "y": {"field": "v", "type": "quantitative", "scale": {"domain": [-20, 51.05], "nice": false, "zero": false}, "axis": {"values": [-20,-15,-10,-5,0,5,10,15,20,25,30,35,40,45,50], "labelExpr": "datum.value % 10 === 0 ? datum.label : ''", "tickSize": {"condition": {"test": "datum.value % 10 === 0", "value": 5}, "value": 3}, "title": "XCO₂", "labelFontSize": 14, "titleFontSize": 18, "titlePadding": 8}}
   },
   "layer": [
    {"mark": {"type": "line", "strokeWidth": 1.5}, "encoding": {"color": {"field": "t", "type": "nominal", "scale": {"domain": ["800", "750", "700", "650", "600"], "range": ["#000000", "#ff0000", "#0000ff", "#ff00ff", "#008000"]}, "legend": null}}},
    {"transform": [{"filter": "datum.t === '800'"}], "mark": {"type": "point", "shape": "square", "size": 60, "filled": true, "fill": "#ffffff", "stroke": "#000000", "strokeWidth": 1.2, "opacity": 1}},
    {"transform": [{"filter": "datum.t === '750'"}], "mark": {"type": "point", "shape": "circle", "size": 75, "filled": true, "fill": "#ffffff", "stroke": "#ff0000", "strokeWidth": 1.2, "opacity": 1}},
    {"transform": [{"filter": "datum.t === '700'"}], "mark": {"type": "point", "shape": "triangle-up", "size": 80, "filled": true, "fill": "#ffffff", "stroke": "#0000ff", "strokeWidth": 1.2, "opacity": 1}},
    {"transform": [{"filter": "datum.t === '650'"}], "mark": {"type": "point", "shape": "triangle-down", "size": 80, "filled": true, "fill": "#ffffff", "stroke": "#ff00ff", "strokeWidth": 1.2, "opacity": 1}},
    {"transform": [{"filter": "datum.t === '600'"}], "mark": {"type": "point", "shape": "diamond", "size": 80, "filled": true, "fill": "#ffffff", "stroke": "#008000", "strokeWidth": 1.2, "opacity": 1}},
    {"transform": [{"filter": "false"}], "mark": {"type": "point", "filled": false, "opacity": 1, "size": 144},
     "encoding": {
      "stroke": {"field": "t", "type": "nominal", "scale": {"domain": ["800", "700", "600", "750", "650"], "range": ["#000000", "#0000ff", "#008000", "#ff0000", "#ff00ff"]},
        "legend": {"orient": "none", "legendX": 275, "legendY": 15, "columns": 2, "title": null, "labelExpr": "datum.label + ' °C'", "labelFontSize": 12, "labelOffset": 10, "symbolSize": 144, "symbolStrokeWidth": 1.3, "columnPadding": -4, "rowPadding": 2}},
      "shape": {"field": "t", "type": "nominal", "scale": {"domain": ["800", "700", "600", "750", "650"], "range": [
        "M-2.4,0H-0.75M0.75,0H2.4M-0.6,-0.6H0.6V0.6H-0.6Z",
        "M-2.4,0H-0.8M0.8,0H2.4M-0.8,0.6L0.8,0.6L0,-0.75Z",
        "M-2.4,0H-0.85M0.85,0H2.4M0,-0.85L0.85,0L0,0.85L-0.85,0Z",
        "M-2.4,0H-0.75M0.75,0H2.4M-0.65,0A0.65,0.65 0 1,0 0.65,0A0.65,0.65 0 1,0 -0.65,0Z",
        "M-2.4,0H-0.8M0.8,0H2.4M-0.8,-0.6L0.8,-0.6L0,0.75Z"]}}
     }}
   ]
  }
 ], "spacing": 18, "resolve": {"scale": {"color": "independent", "fill": "independent", "stroke": "independent", "shape": "independent"}}},
 {"hconcat": [
  {
   "title": {"text": "(e) Time on stream XCH₄", "offset": 36},
   "width": 416, "height": 332,
   "data": {"name": "e"},
   "encoding": {
    "x": {"field": "t", "type": "quantitative", "scale": {"domain": [-18.8, 849.3], "nice": false, "zero": false}, "axis": {"values": [0,50,100,150,200,250,300,350,400,450,500,550,600,650,700,750,800], "labelExpr": "datum.value % 100 === 0 ? datum.label : ''", "tickSize": {"condition": {"test": "datum.value % 100 === 0", "value": 5}, "value": 3}, "title": "Time (min)", "labelFontSize": 14, "titleFontSize": 15, "labelPadding": 3, "titlePadding": 18}},
    "y": {"field": "v", "type": "quantitative", "scale": {"domain": [10, 94.8], "nice": false, "zero": false}, "axis": {"values": [10,15,20,25,30,35,40,45,50,55,60,65,70,75,80,85,90], "labelExpr": "datum.value % 10 === 0 ? datum.label : ''", "tickSize": {"condition": {"test": "datum.value % 10 === 0", "value": 5}, "value": 3}, "title": "XCH₄", "labelFontSize": 14, "titleFontSize": 18, "titlePadding": 17}}
   },
   "layer": [
    {"mark": {"type": "line", "strokeWidth": 1.5}, "encoding": {"color": {"field": "s", "type": "nominal", "scale": {"domain": ["1.77", "1.47", "1.17", "0.88"], "range": ["#ff00ff", "#0000ff", "#ff0000", "#000000"]}, "legend": null}}},
    {"transform": [{"filter": "datum.s === '0.88'"}], "mark": {"type": "point", "shape": "square", "size": 45, "filled": true, "color": "#000000", "opacity": 1}},
    {"transform": [{"filter": "datum.s === '1.17'"}], "mark": {"type": "point", "shape": "circle", "size": 55, "filled": true, "color": "#ff0000", "opacity": 1}},
    {"transform": [{"filter": "datum.s === '1.47'"}], "mark": {"type": "point", "shape": "triangle-up", "size": 55, "filled": true, "color": "#0000ff", "opacity": 1}},
    {"transform": [{"filter": "datum.s === '1.77'"}], "mark": {"type": "point", "shape": "triangle-down", "size": 55, "filled": true, "color": "#ff00ff", "opacity": 1}},
    {"data": {"name": "e_ann"}, "mark": {"type": "text", "font": "Liberation Serif", "fontWeight": "bold", "fontSize": 11, "color": "#222222"}, "encoding": {"text": {"field": "label"}}},
    {"transform": [{"filter": "false"}], "mark": {"type": "point", "filled": false, "opacity": 1, "size": 144},
     "encoding": {
      "stroke": {"field": "s", "type": "nominal", "scale": {"domain": ["0.88", "1.17", "1.47", "1.77"], "range": ["#000000", "#ff0000", "#0000ff", "#ff00ff"]},
        "legend": {"orient": "none", "legendX": 331, "legendY": 5, "title": null, "labelExpr": "'S/C = ' + datum.label", "labelFontSize": 12, "labelOffset": 11, "symbolSize": 144, "symbolStrokeWidth": 1.5, "rowPadding": 1}},
      "shape": {"field": "s", "type": "nominal", "scale": {"domain": ["0.88", "1.17", "1.47", "1.77"], "range": [
        "M-2.4,0H2.4M-0.6,-0.6H0.6M-0.6,-0.4H0.6M-0.6,-0.2H0.6M-0.6,0.2H0.6M-0.6,0.4H0.6M-0.6,0.6H0.6",
        "M-2.4,0H2.4M-0.25,-0.6H0.25M-0.51,-0.4H0.51M-0.62,-0.2H0.62M-0.62,0.2H0.62M-0.51,0.4H0.51M-0.25,0.6H0.25",
        "M-2.4,0H2.4M-0.8,0.6H0.8M-0.68,0.4H0.68M-0.56,0.2H0.56M-0.33,-0.2H0.33M-0.21,-0.4H0.21M-0.09,-0.6H0.09",
        "M-2.4,0H2.4M-0.8,-0.6H0.8M-0.68,-0.4H0.68M-0.56,-0.2H0.56M-0.33,0.2H0.33M-0.21,0.4H0.21M-0.09,0.6H0.09"]}}
     }}
   ]
  },
  {
   "title": {"text": "(f) Time on stream XCO₂", "offset": 31},
   "width": 408, "height": 338,
   "data": {"name": "f"},
   "encoding": {
    "x": {"field": "t", "type": "quantitative", "scale": {"domain": [-10.5, 844], "nice": false, "zero": false}, "axis": {"values": [0,50,100,150,200,250,300,350,400,450,500,550,600,650,700,750,800], "labelExpr": "datum.value % 100 === 0 ? datum.label : ''", "tickSize": {"condition": {"test": "datum.value % 100 === 0", "value": 5}, "value": 3}, "title": "Time (min)", "labelFontSize": 14, "titleFontSize": 15, "labelPadding": 3, "titlePadding": 18}},
    "y": {"field": "v", "type": "quantitative", "scale": {"domain": [-20, 81.2], "nice": false, "zero": false}, "axis": {"values": [-20,-10,0,10,20,30,40,50,60,70,80], "labelExpr": "datum.value % 20 === 0 ? datum.label : ''", "tickSize": {"condition": {"test": "datum.value % 20 === 0", "value": 5}, "value": 3}, "title": "XCO₂", "labelFontSize": 14, "titleFontSize": 18, "titlePadding": 8}}
   },
   "layer": [
    {"mark": {"type": "line", "strokeWidth": 1.5}, "encoding": {"color": {"field": "s", "type": "nominal", "scale": {"domain": ["1.77", "1.47", "1.17", "0.88"], "range": ["#ff00ff", "#0000ff", "#ff0000", "#000000"]}, "legend": null}}},
    {"transform": [{"filter": "datum.s === '0.88'"}], "mark": {"type": "point", "shape": "square", "size": 45, "filled": true, "color": "#000000", "opacity": 1}},
    {"transform": [{"filter": "datum.s === '1.17'"}], "mark": {"type": "point", "shape": "circle", "size": 55, "filled": true, "color": "#ff0000", "opacity": 1}},
    {"transform": [{"filter": "datum.s === '1.47'"}], "mark": {"type": "point", "shape": "triangle-up", "size": 55, "filled": true, "color": "#0000ff", "opacity": 1}},
    {"transform": [{"filter": "datum.s === '1.77'"}], "mark": {"type": "point", "shape": "triangle-down", "size": 55, "filled": true, "color": "#ff00ff", "opacity": 1}},
    {"data": {"name": "f_ann"}, "mark": {"type": "text", "font": "Liberation Serif", "fontWeight": "bold", "fontSize": 11, "color": "#222222"}, "encoding": {"text": {"field": "label"}}},
    {"transform": [{"filter": "false"}], "mark": {"type": "point", "filled": false, "opacity": 1, "size": 144},
     "encoding": {
      "stroke": {"field": "s", "type": "nominal", "scale": {"domain": ["0.88", "1.17", "1.47", "1.77"], "range": ["#000000", "#ff0000", "#0000ff", "#ff00ff"]},
        "legend": {"orient": "none", "legendX": 327, "legendY": 10, "title": null, "labelExpr": "'S/C = ' + datum.label", "labelFontSize": 11.5, "labelOffset": 11, "symbolSize": 144, "symbolStrokeWidth": 1.5, "rowPadding": 1}},
      "shape": {"field": "s", "type": "nominal", "scale": {"domain": ["0.88", "1.17", "1.47", "1.77"], "range": [
        "M-2.4,0H2.4M-0.6,-0.6H0.6M-0.6,-0.4H0.6M-0.6,-0.2H0.6M-0.6,0.2H0.6M-0.6,0.4H0.6M-0.6,0.6H0.6",
        "M-2.4,0H2.4M-0.25,-0.6H0.25M-0.51,-0.4H0.51M-0.62,-0.2H0.62M-0.62,0.2H0.62M-0.51,0.4H0.51M-0.25,0.6H0.25",
        "M-2.4,0H2.4M-0.8,0.6H0.8M-0.68,0.4H0.68M-0.56,0.2H0.56M-0.33,-0.2H0.33M-0.21,-0.4H0.21M-0.09,-0.6H0.09",
        "M-2.4,0H2.4M-0.8,-0.6H0.8M-0.68,-0.4H0.68M-0.56,-0.2H0.56M-0.33,0.2H0.33M-0.21,0.4H0.21M-0.09,0.6H0.09"]}}
     }}
   ]
  }
 ], "spacing": 17, "resolve": {"scale": {"color": "independent", "fill": "independent", "stroke": "independent", "shape": "independent"}}}
],
"spacing": 24
}
